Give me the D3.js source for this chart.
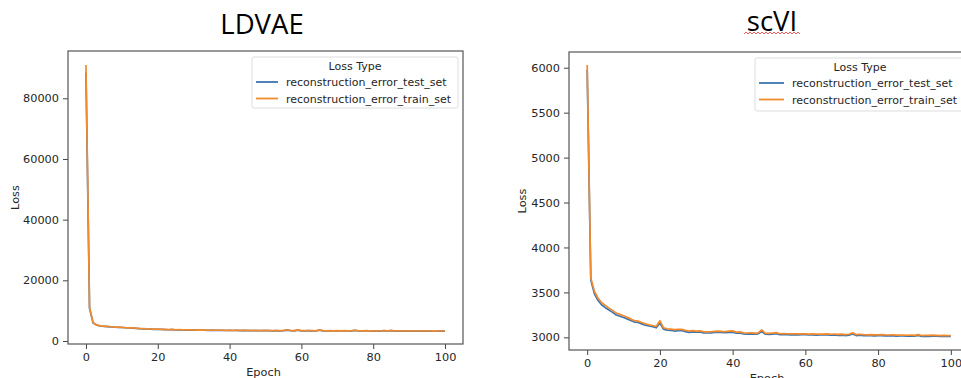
<!DOCTYPE html>
<html>
<head>
 <meta charset="UTF-8">
 <title>LDVAE vs scVI loss</title>
 <script src="https://d3js.org/d3.v7.min.js"></script>
 <style>
  body { margin: 0; background: #fff; }
  text { font-family: "DejaVu Sans", sans-serif; fill: #262626; }
  .title { font-family: "Open Sans", "Lato", sans-serif; fill: #000; }
 </style>
</head>
<body>
<script type="text/javascript">
var epochs = d3.range(0, 101);
var seriesNames = ["reconstruction_error_test_set", "reconstruction_error_train_set"];
var colors = ["#3b75af", "#f28a2e"];

var ldvaeTest = [88500, 10800, 5900, 5250, 4950, 4850, 4750, 4650, 4560, 4500, 4450, 4360, 4300, 4250, 4160, 4060, 4000, 3960, 3900, 3860,
  3850, 3800, 3760, 3700, 3750, 3660, 3700, 3650, 3610, 3650, 3600, 3560, 3600, 3560, 3500, 3560, 3500, 3550, 3500, 3460,
  3500, 3460, 3500, 3450, 3500, 3450, 3410, 3450, 3400, 3400, 3450, 3400, 3360, 3400, 3350, 3400, 3600, 3400, 3350, 3580,
  3350, 3350, 3400, 3350, 3300, 3580, 3350, 3300, 3350, 3300, 3350, 3300, 3350, 3300, 3350, 3480, 3300, 3300, 3350, 3300,
  3260, 3300, 3260, 3400, 3300, 3440, 3260, 3300, 3260, 3260, 3300, 3260, 3260, 3260, 3300, 3260, 3260, 3210, 3260, 3260, 3260];
var ldvaeTrain = [91000, 11000, 6000, 5300, 5000, 4900, 4800, 4700, 4600, 4550, 4500, 4400, 4350, 4300, 4200, 4100, 4050, 4000, 3950, 3900,
  3900, 3850, 3800, 3750, 3800, 3700, 3750, 3700, 3650, 3700, 3650, 3600, 3650, 3600, 3550, 3600, 3550, 3600, 3550, 3500,
  3550, 3500, 3550, 3500, 3550, 3500, 3450, 3500, 3450, 3450, 3500, 3450, 3400, 3450, 3400, 3450, 3700, 3450, 3400, 3650,
  3400, 3400, 3450, 3400, 3350, 3650, 3400, 3350, 3400, 3350, 3400, 3350, 3400, 3350, 3400, 3550, 3350, 3350, 3400, 3350,
  3300, 3350, 3300, 3450, 3350, 3500, 3300, 3350, 3300, 3300, 3350, 3300, 3300, 3300, 3350, 3300, 3300, 3250, 3300, 3300, 3300];

var scviTest = [5975, 3635, 3485, 3410, 3360, 3330, 3305, 3278, 3248, 3235, 3220, 3205, 3188, 3170, 3165, 3150, 3136, 3126, 3118, 3108,
  3160, 3090, 3080, 3078, 3070, 3074, 3076, 3064, 3056, 3060, 3057, 3059, 3050, 3048, 3050, 3054, 3058, 3054, 3052, 3055,
  3058, 3046, 3048, 3038, 3036, 3038, 3034, 3038, 3065, 3034, 3033, 3036, 3040, 3030, 3031, 3029, 3028, 3030, 3028, 3030,
  3029, 3026, 3028, 3025, 3027, 3026, 3028, 3024, 3026, 3022, 3025, 3020, 3024, 3038, 3020, 3024, 3020, 3018, 3020, 3017,
  3018, 3020, 3017, 3016, 3018, 3014, 3016, 3015, 3013, 3015, 3012, 3020, 3010, 3012, 3011, 3014, 3012, 3009, 3011, 3010, 3010];
var scviTrain = [6030, 3660, 3510, 3435, 3385, 3355, 3325, 3300, 3270, 3255, 3240, 3222, 3205, 3185, 3180, 3165, 3150, 3140, 3132, 3122,
  3185, 3105, 3095, 3092, 3085, 3088, 3090, 3078, 3070, 3074, 3070, 3072, 3062, 3060, 3062, 3066, 3070, 3066, 3064, 3068,
  3072, 3058, 3060, 3050, 3048, 3050, 3046, 3050, 3082, 3045, 3044, 3048, 3052, 3040, 3042, 3040, 3038, 3040, 3038, 3040,
  3039, 3036, 3038, 3035, 3037, 3036, 3038, 3034, 3036, 3032, 3035, 3030, 3034, 3050, 3030, 3034, 3030, 3028, 3030, 3027,
  3028, 3030, 3027, 3026, 3028, 3024, 3026, 3025, 3023, 3025, 3022, 3030, 3020, 3022, 3021, 3024, 3022, 3019, 3021, 3020, 3020];

var xTicks = [0, 20, 40, 60, 80, 100];
var ldvaeTicks = [0, 20000, 40000, 60000, 80000];
var scviTicks = [3000, 3500, 4000, 4500, 5000, 5500, 6000];

var svg = d3.select("body").append("svg")
  .attr("width", 961)
  .attr("height", 378);

function drawPanel(opt) {
  var x = d3.scaleLinear().domain([-5, 105]).range([opt.left, opt.right]);
  var y = d3.scaleLinear().domain(opt.yDomain).range([opt.bottom, opt.top]);
  var g = svg.append("g");

  var line = d3.line()
    .x(function (d, i) { return x(epochs[i]); })
    .y(function (d) { return y(d); });

  opt.series.forEach(function (s, i) {
    g.append("path")
      .attr("d", line(s))
      .attr("fill", "none")
      .attr("stroke", colors[i])
      .attr("stroke-width", 1.7)
      .attr("stroke-linejoin", "round");
  });

  var xAxis = d3.axisBottom(x).tickValues(xTicks).tickSize(5).tickPadding(4);
  var yAxis = d3.axisLeft(y).tickValues(opt.yTicks).tickSize(5).tickPadding(4).tickFormat(d3.format("d"));

  var gx = g.append("g").attr("transform", "translate(0," + opt.bottom + ")").call(xAxis);
  var gy = g.append("g").attr("transform", "translate(" + opt.left + ",0)").call(yAxis);
  [gx, gy].forEach(function (a) {
    a.select(".domain").remove();
    a.selectAll("line").attr("stroke", "#444");
    a.selectAll("text").style("font-size", "11.3px").attr("fill", "#262626");
  });

  g.append("rect")
    .attr("x", opt.left).attr("y", opt.top)
    .attr("width", opt.right - opt.left).attr("height", opt.bottom - opt.top)
    .attr("fill", "none").attr("stroke", "#555").attr("stroke-width", 1.2);

  g.append("text")
    .attr("x", (opt.left + opt.right) / 2 - 2).attr("y", opt.xLabelY)
    .attr("text-anchor", "middle").style("font-size", "11.3px")
    .text("Epoch");
  g.append("text")
    .attr("transform", "translate(" + opt.yLabelX + "," + (opt.top + opt.bottom) / 2 + ") rotate(-90)")
    .attr("text-anchor", "middle").style("font-size", "11.3px")
    .text("Loss");

  // legend
  var lg = g.append("g").attr("transform", "translate(" + opt.legX + "," + opt.legY + ")");
  lg.append("rect")
    .attr("width", opt.legW).attr("height", opt.legH).attr("rx", 2)
    .attr("fill", "#fff").attr("stroke", "#ddd");
  lg.append("text")
    .attr("x", opt.legTitleX).attr("y", 13)
    .attr("text-anchor", "middle").style("font-size", "11px")
    .text("Loss Type");
  seriesNames.forEach(function (n, i) {
    var yy = 25 + i * 16.5;
    lg.append("line")
      .attr("x1", 4).attr("x2", opt.legLineW + 4)
      .attr("y1", yy).attr("y2", yy)
      .attr("stroke", colors[i]).attr("stroke-width", 1.8);
    lg.append("text")
      .attr("x", opt.legLineW + 12).attr("y", yy + 4)
      .style("font-size", "11px")
      .text(n);
  });

  svg.append("text")
    .attr("class", "title")
    .attr("x", opt.titleX).attr("y", opt.titleY)
    .attr("text-anchor", "middle")
    .style("font-size", "27.5px")
    .text(opt.title);
}

drawPanel({
  title: "LDVAE", titleX: 262, titleY: 34,
  left: 68, right: 463, top: 51, bottom: 344,
  yDomain: [-990, 95590], yTicks: ldvaeTicks,
  series: [ldvaeTest, ldvaeTrain],
  xLabelY: 376, yLabelX: 19,
  legX: 252, legY: 57, legW: 206, legH: 51, legTitleX: 103, legLineW: 22
});

drawPanel({
  title: "scVI", titleX: 772, titleY: 31,
  left: 569, right: 969, top: 52, bottom: 350,
  yDomain: [2859, 6175], yTicks: scviTicks,
  series: [scviTest, scviTrain],
  xLabelY: 382, yLabelX: 526,
  legX: 755, legY: 58, legW: 215, legH: 53, legTitleX: 105, legLineW: 25
});

// spell-check squiggle under the right title
var squiggle = d3.range(744, 801, 2).map(function (px, i) { return [px, i % 2 ? 32 : 34]; });
svg.append("path")
  .attr("d", d3.line()(squiggle))
  .attr("fill", "none").attr("stroke", "#e33").attr("stroke-width", 0.8);
</script>
</body>
</html>
